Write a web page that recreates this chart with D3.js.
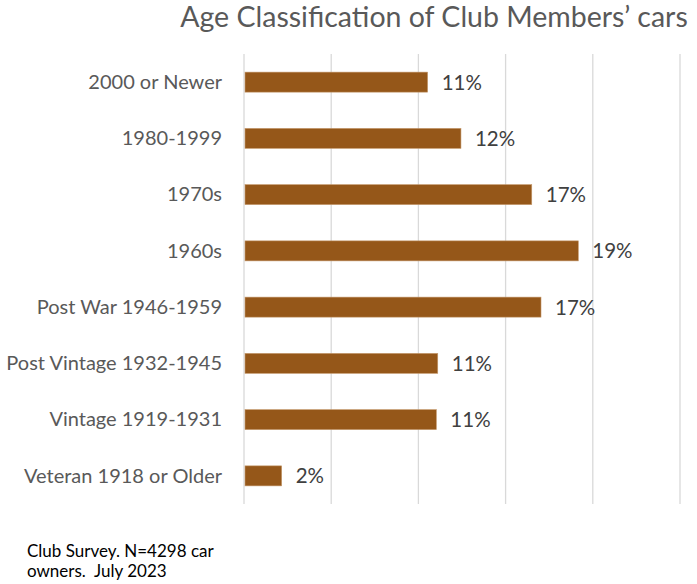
<!DOCTYPE html>
<html><head><meta charset="utf-8">
<script src="https://cdn.jsdelivr.net/npm/d3@7"></script>
<style>body{margin:0;background:#fff;} text{font-family:Lato,"Open Sans",sans-serif;white-space:pre;}</style>
</head><body>
<svg id="c" width="697" height="584"></svg>
<script>
const categories = ["2000 or Newer","1980-1999","1970s","1960s","Post War 1946-1959","Post Vintage 1932-1945","Vintage 1919-1931","Veteran 1918 or Older"];
const values = [0.1053,0.1244,0.1650,0.1917,0.1703,0.1111,0.1103,0.0216];
const labels = ["11%","12%","17%","19%","17%","11%","11%","2%"];
const xTicks = [0,0.05,0.10,0.15,0.20,0.25];
const title = "Age Classification of Club Members’ cars";
const note = ["Club Survey. N=4298 car","owners.  July 2023"];

const svg = d3.select("#c");
const L = 244, R = 680, T = 54, B = 504;
const x = d3.scaleLinear().domain([0,0.25]).range([L,R]);
const y = d3.scaleBand().domain(categories).range([T,B]).paddingInner(0.644).paddingOuter(0.322);

svg.append("g").selectAll("line").data(xTicks).join("line")
  .attr("x1",d=>x(d)).attr("x2",d=>x(d)).attr("y1",T).attr("y2",B)
  .attr("stroke","#d9d9d9").attr("stroke-width",1.3);

svg.append("g").selectAll("rect").data(values).join("rect")
  .attr("x",x(0)+1).attr("y",(d,i)=>y(categories[i]))
  .attr("width",d=>x(d)-x(0)-1).attr("height",y.bandwidth())
  .attr("fill","#955719").attr("stroke","#c59a6e").attr("stroke-width",0.6);

svg.append("g").selectAll("text").data(values).join("text")
  .attr("x",d=>x(d)+14).attr("y",(d,i)=>y(categories[i])+y.bandwidth()/2)
  .attr("dy","0.36em").attr("font-size",20.5).attr("fill","#404040")
  .text((d,i)=>labels[i]);

svg.append("g").selectAll("text").data(categories).join("text")
  .attr("x",222).attr("y",d=>y(d)+y.bandwidth()/2).attr("dy","0.34em")
  .attr("text-anchor","end").attr("font-size",20).attr("fill","#595959")
  .text(d=>d);

svg.append("text").attr("x",434).attr("y",27).attr("text-anchor","middle")
  .attr("font-size",28.5).attr("fill","#595959").text(title);

svg.append("g").selectAll("text").data(note).join("text")
  .attr("x",27).attr("y",(d,i)=>557+i*19.5).attr("font-size",17).attr("fill","#000")
  .text(d=>d);
</script>
</body></html>
